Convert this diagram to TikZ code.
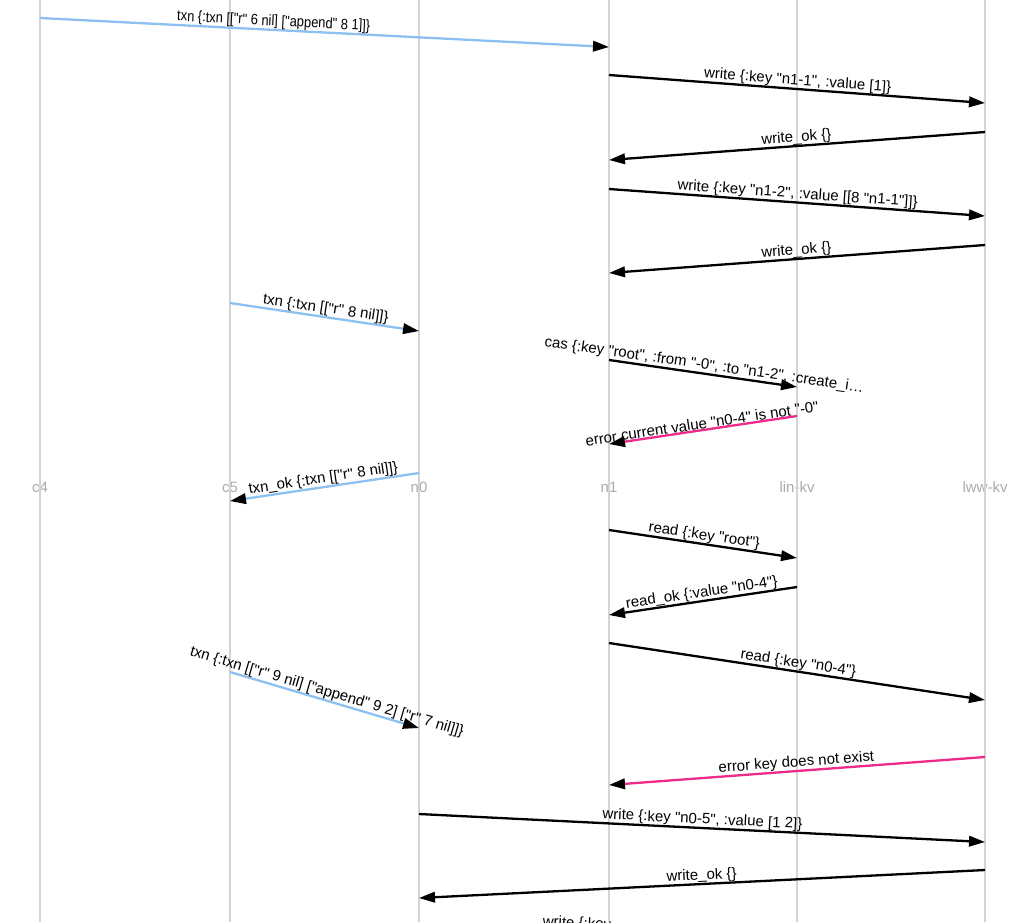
\documentclass[tikz,border=0pt]{standalone}
\usepackage{fontspec}
\setmainfont{Liberation Sans}[Ligatures=TeXOff]
\usepackage{tikz}
\usetikzlibrary{arrows.meta,positioning}
\definecolor{cblue}{HTML}{8CC0F0}
\definecolor{epink}{HTML}{EE2A8A}

\begin{document}
\begin{tikzpicture}[x=1pt, y=-1pt,
    actor/.style = {text=black!33, font=\fontsize{15}{17}\selectfont, inner sep=0pt},
    life/.style = {draw=black!17, line width=1.3pt},
    msg/.style = {line width=2.3pt, -{Triangle[length=16pt,width=10.5pt,black]}},
    call/.style = {msg, draw=black},
    client/.style = {msg, draw=cblue},
    fail/.style = {msg, draw=epink},
    lbl/.style = {sloped, above, inner sep=0pt, font=\fontsize{15}{17}\selectfont}]
            \useasboundingbox (0,0) rectangle (1014,922);
            \clip (0,0) rectangle (1014,922);
            % Lifelines
            \node[actor] (c4) at (40,487) {c4};
            \node[actor] (c5) at (230,487) {c5};
            \node[actor] (n0) at (419,487) {n0};
            \node[actor] (n1) at (609,487) {n1};
            \node[actor] (linkv) at (797,487) {lin-kv};
            \node[actor] (lwwkv) at (985,487) {lww-kv};
            \foreach \p in {c4,c5,n0,n1,linkv,lwwkv}
                \draw[life] (\p |- 0,0) -- (\p |- 0,922);
            % Messages
            \draw[client] (c4 |- 0,18) -- (n1 |- 0,47) node[lbl,pos=.41] {\scalebox{0.86}[1]{txn \{:txn [["r" 6 nil] ["append" 8 1]]\}}};
            \draw[call] (n1 |- 0,75) -- (lwwkv |- 0,103) node[lbl,midway] {write \{:key "n1-1", :value [1]\}};
            \draw[call] (lwwkv |- 0,132) -- (n1 |- 0,160) node[lbl,midway] {write\_ok \{\}};
            \draw[call] (n1 |- 0,189) -- (lwwkv |- 0,216) node[lbl,midway] {write \{:key "n1-2", :value [[8 "n1-1"]]\}};
            \draw[call] (lwwkv |- 0,245) -- (n1 |- 0,273) node[lbl,midway] {write\_ok \{\}};
            \draw[client] (c5 |- 0,303) -- (n0 |- 0,331) node[lbl,midway] {txn \{:txn [["r" 8 nil]]\}};
            \draw[call] (n1 |- 0,360) -- (linkv |- 0,387) node[lbl,midway] {cas \{:key "root", :from "-0", :to "n1-2", :create\_i…};
            \draw[fail] (linkv |- 0,416) -- (n1 |- 0,444) node[lbl,midway] {error current value "n0-4" is not "-0"};
            \draw[client] (n0 |- 0,473) -- (c5 |- 0,501) node[lbl,midway] {txn\_ok \{:txn [["r" 8 nil]]\}};
            \draw[call] (n1 |- 0,530) -- (linkv |- 0,558) node[lbl,midway] {read \{:key "root"\}};
            \draw[call] (linkv |- 0,587) -- (n1 |- 0,615) node[lbl,midway] {read\_ok \{:value "n0-4"\}};
            \draw[call] (n1 |- 0,643) -- (lwwkv |- 0,700) node[lbl,midway] {read \{:key "n0-4"\}};
            \draw[client] (c5 |- 0,672) -- (n0 |- 0,728) node[lbl,midway] {txn \{:txn [["r" 9 nil] ["append" 9 2] ["r" 7 nil]]\}};
            \draw[fail] (lwwkv |- 0,757) -- (n1 |- 0,785) node[lbl,midway] {error key does not exist};
            \draw[call] (n0 |- 0,814) -- (lwwkv |- 0,842) node[lbl,midway] {write \{:key "n0-5", :value [1 2]\}};
            \draw[call] (lwwkv |- 0,870) -- (n0 |- 0,898) node[lbl,midway] {write\_ok \{\}};
            \node[lbl, sloped=false, anchor=north west, rotate=-3] (cut) at (543,915) {write \{:key};
\end{tikzpicture}
\end{document}
